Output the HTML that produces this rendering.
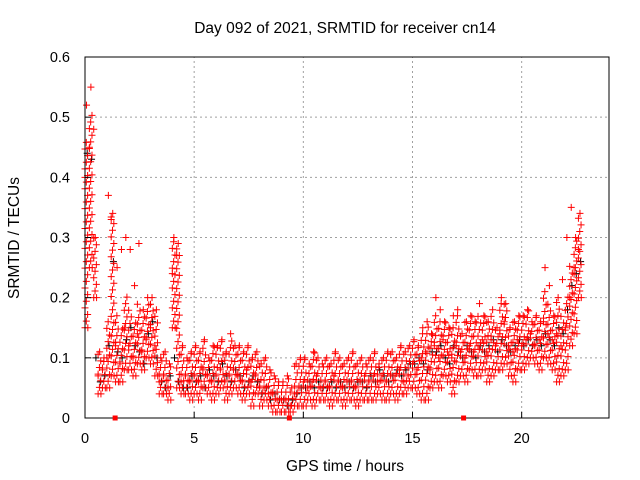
<!DOCTYPE html>
<html><head><meta charset="utf-8"><style>
body{margin:0;background:#fff}
svg{display:block;font-family:"Liberation Sans",sans-serif}
</style></head><body>
<svg id="chart" width="640" height="480" viewBox="0 0 640 480">
<rect width="640" height="480" fill="#fff"/>
<g id="grid"></g>
<g id="marks"></g>
<g id="axes"></g>
<text x="345" y="33" font-size="15.5" text-anchor="middle">Day 092 of 2021, SRMTID for receiver cn14</text>
<text x="345" y="471" font-size="15.5" text-anchor="middle">GPS time / hours</text>
<text x="19" y="238" font-size="15.5" text-anchor="middle" transform="rotate(-90 19 238)">SRMTID / TECUs</text>
</svg>
<script>
const xTicks=[0,5,10,15,20];
const yTicks=[0,0.1,0.2,0.3,0.4,0.5,0.6];
const yTickLabels=["0","0.1","0.2","0.3","0.4","0.5","0.6"];
const tStart=0, tStep=0.2;
const redA=[.40,.45,.48,.07,.08,.10,.33,.12,.09,.15,.12,.10,.14,.11,.13,.15,.12,.06,.07,.05,.24,.27,.06,.07,.06,.07,.06,.08,.07,.06,.07,.08,.06,.07,.08,.07,.06,.08,.06,.07,.05,.05,.04,.04,.03,.03,.03,.02,.04,.05,.06,.05,.06,.07,.05,.06,.05,.07,.06,.05,.06,.06,.05,.06,.07,.06,.07,.06,.07,.06,.07,.07,.08,.06,.07,.09,.08,.10,.11,.08,.12,.10,.13,.11,.10,.12,.11,.10,.12,.11,.12,.13,.11,.13,.12,.14,.16,.12,.11,.13,.12,.13,.14,.12,.13,.16,.14,.13,.14,.12,.15,.20,.25,.28];
const redB=[.52,.55,.30,.11,.10,.37,.34,.25,.28,.30,.28,.22,.29,.18,.20,.20,.18,.10,.11,.09,.30,.29,.12,.10,.11,.12,.11,.13,.10,.12,.12,.13,.11,.14,.12,.12,.11,.12,.10,.11,.09,.10,.08,.07,.06,.06,.07,.05,.09,.10,.10,.09,.11,.10,.09,.10,.09,.11,.10,.09,.10,.11,.09,.10,.09,.10,.11,.09,.10,.11,.11,.10,.12,.11,.12,.13,.12,.15,.16,.14,.20,.18,.16,.15,.17,.18,.14,.16,.17,.16,.19,.17,.16,.18,.15,.20,.19,.15,.16,.17,.17,.18,.16,.17,.16,.25,.22,.17,.20,.23,.30,.35,.30,.34];
const redC=[.15,.25,.20,.04,.05,.05,.07,.06,.06,.08,.08,.07,.09,.08,.10,.09,.07,.04,.04,.03,.15,.05,.04,.04,.03,.04,.03,.05,.04,.03,.04,.05,.03,.04,.05,.04,.03,.04,.02,.04,.02,.03,.02,.01,.01,.01,.01,.01,.02,.02,.02,.03,.02,.03,.03,.03,.02,.03,.03,.02,.03,.03,.02,.03,.03,.03,.03,.04,.03,.03,.04,.03,.04,.04,.05,.05,.04,.03,.03,.05,.06,.05,.07,.06,.04,.06,.07,.06,.08,.07,.07,.08,.06,.07,.08,.08,.09,.07,.06,.08,.08,.09,.10,.09,.08,.10,.09,.08,.06,.07,.08,.12,.14,.20];
const blackD=[.44,.43,.10,.06,.07,.12,.26,.11,.10,.13,.15,.12,.11,.09,.14,.16,.10,.06,.05,.07,.10,.06,.05,.05,.07,.06,.07,.05,.08,.07,.06,.09,.07,.06,.08,.07,.05,.06,.07,.06,.04,.05,.03,.04,.03,.03,.02,.03,.04,.05,.05,.06,.05,.06,.05,.05,.06,.05,.06,.05,.06,.05,.06,.06,.05,.07,.06,.08,.07,.06,.07,.08,.07,.08,.09,.09,.10,.09,.08,.11,.11,.12,.10,.09,.12,.11,.10,.12,.11,.10,.12,.11,.12,.13,.11,.13,.12,.11,.12,.13,.12,.13,.12,.13,.12,.14,.13,.12,.15,.14,.18,.22,.24,.26];
const gapMarkers=[1.38,9.36,17.34];

const X0=85,X1=609,Y0=418,Y1=57;
const xMax=24, yMax=0.6;
function sx(t){return X0+(X1-X0)*t/xMax;}
function sy(v){return Y0-(Y0-Y1)*v/yMax;}
const NS="http://www.w3.org/2000/svg";
function mk(tag,attrs,parent){const e=document.createElementNS(NS,tag);for(const k in attrs)e.setAttribute(k,attrs[k]);parent.appendChild(e);return e;}
const grid=document.getElementById('grid'),marks=document.getElementById('marks'),axes=document.getElementById('axes');

xTicks.forEach(t=>{
  if(t>0){const g=mk('line',{x1:sx(t),x2:sx(t),y1:Y0,y2:Y1,stroke:'#a0a0a0','stroke-dasharray':'2,3','stroke-width':1},grid);
  
  }
  const tk=mk('line',{x1:sx(t),x2:sx(t),y1:Y0,y2:Y0-6,stroke:'#000'},axes);
  
  
  const lb=mk('text',{x:sx(t),y:443,'font-size':14.5,'text-anchor':'middle'},axes);lb.textContent=t;
  
  
});
yTicks.forEach((v,i)=>{
  if(v>0&&v<yMax){const g=mk('line',{x1:X0,x2:X1,y1:sy(v),y2:sy(v),stroke:'#a0a0a0','stroke-dasharray':'2,3','stroke-width':1},grid);
  
  }
  const tk=mk('line',{x1:X0,x2:X0+6,y1:sy(v),y2:sy(v),stroke:'#000'},axes);
  
  
  const lb=mk('text',{x:70,y:sy(v)+5,'font-size':14.5,'text-anchor':'end'},axes);lb.textContent=yTickLabels[i];
  
  
});
const frame=mk('rect',{x:X0,y:Y1,width:X1-X0,height:Y0-Y1,fill:'none',stroke:'#000','stroke-width':1},axes);



function plus(t,v,color,name){
  const x=sx(t),y=sy(v);
  const p=mk('path',{d:`M${x-3.5},${y}h7M${x},${y-3.5}v7`,stroke:color,'stroke-width':1,fill:'none'},marks);
  
  
}
blackD.forEach((v,i)=>plus(tStart+i*tStep+0.1,v,'#000','black-point'));
// spread points between each bin's low (redC) and high (redB) readings
redC.forEach((lo,i)=>{
  const hi=redB[i], mid=redA[i];
  const t0=tStart+i*tStep;
  let k=0;
  for(let v=lo;v<=Math.min(hi,mid+0.06);v+=0.011){
    plus(t0+((k%3)*0.06),v,'#f00','red-point');k++;
  }
});
redA.forEach((v,i)=>plus(tStart+i*tStep,v,'#f00','red-point'));
redB.forEach((v,i)=>plus(tStart+i*tStep+0.07,v,'#f00','red-point'));
redC.forEach((v,i)=>plus(tStart+i*tStep+0.13,v,'#f00','red-point'));
gapMarkers.forEach(t=>{
  const r=mk('rect',{x:sx(t)-2.5,y:Y0-2.5,width:5,height:5,fill:'#f00'},axes);
  
  
});
</script>
</body></html>
